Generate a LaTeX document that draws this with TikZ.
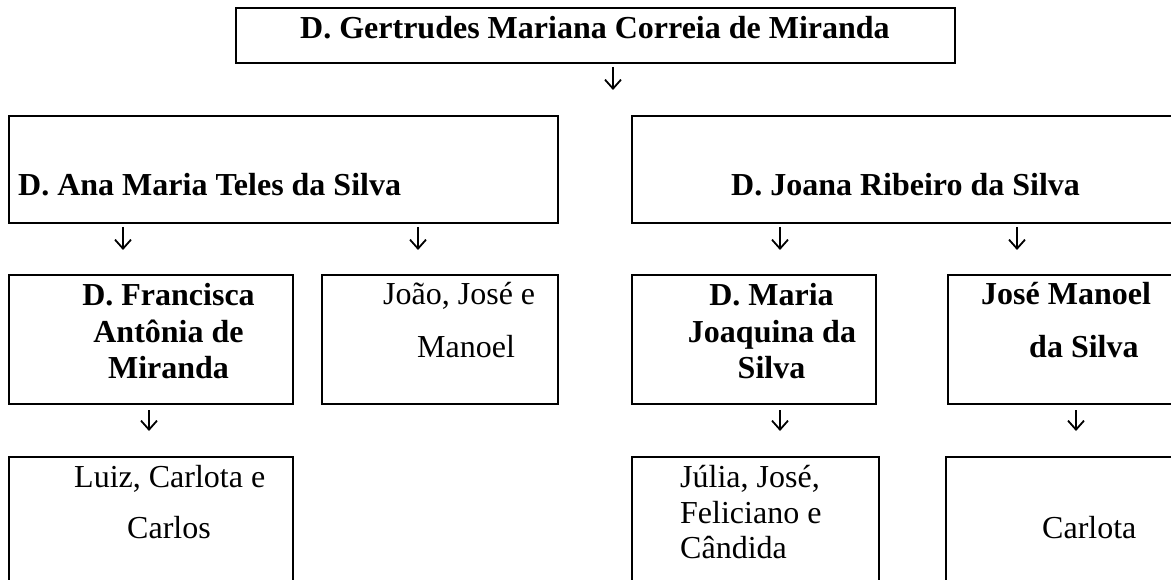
\documentclass[tikz,border=0pt]{standalone}
\usepackage{fontspec}
\setmainfont{Liberation Serif}
\usetikzlibrary{arrows.meta}
\tikzset{
  box/.style={draw, line width=2pt, rectangle, anchor=north west, inner sep=0pt},
  txt/.style={inner sep=0pt, font=\fontsize{32}{36}\selectfont},
  btxt/.style={inner sep=0pt, font=\fontsize{32}{36}\selectfont\bfseries},
  arr/.style={line width=1.8pt, -{Straight Barb[length=9pt,width=16pt,line width=1.8pt]}}
}
\begin{document}
\begin{tikzpicture}[x=1pt,y=-1pt]
\clip (0,0) rectangle (1171,580);
\fill[white] (0,0) rectangle (1171,580);
% boxes
\node[box, minimum width=719pt, minimum height=55pt] (top) at (235,7) {};
\node[box, minimum width=549pt, minimum height=107pt] (ana) at (8,115) {};
\node[box, minimum width=554pt, minimum height=107pt] (joana) at (631,115) {};
\node[box, minimum width=284pt, minimum height=129pt] (fran) at (8,274) {};
\node[box, minimum width=236pt, minimum height=129pt] (joao) at (321,274) {};
\node[box, minimum width=244pt, minimum height=129pt] (maria) at (631,274) {};
\node[box, minimum width=238pt, minimum height=129pt] (jm) at (947,274) {};
\node[box, minimum width=284pt, minimum height=144pt] (luiz) at (8,456) {};
\node[box, minimum width=247pt, minimum height=144pt] (julia) at (631,456) {};
\node[box, minimum width=240pt, minimum height=144pt] (carlota) at (945,456) {};
% texts
\node[btxt, anchor=base west] (ttop) at (300,39) {D. Gertrudes Mariana Correia de Miranda};
\node[btxt, anchor=base west] (tana) at (18,196) {D. Ana Maria Teles da Silva};
\node[btxt, anchor=base west] (tjoana) at (731,196) {D. Joana Ribeiro da Silva};
\node[btxt, anchor=base] (tfran1) at (168.5,306) {D. Francisca};
\node[btxt, anchor=base] (tfran2) at (168.5,342) {Antônia de};
\node[btxt, anchor=base] (tfran3) at (168.5,378) {Miranda};
\node[txt, anchor=base west] (tjoao1) at (383,305) {João, José e};
\node[txt, anchor=base west] (tjoao2) at (417,357) {Manoel};
\node[btxt, anchor=base] (tmaria1) at (771.5,306) {D. Maria};
\node[btxt, anchor=base] (tmaria2) at (772,342) {Joaquina da};
\node[btxt, anchor=base] (tmaria3) at (771.5,378) {Silva};
\node[btxt, anchor=base west] (tjm1) at (981,305) {José Manoel};
\node[btxt, anchor=base west] (tjm2) at (1029,357) {da Silva};
\node[txt, anchor=base west] (tluiz1) at (74,487) {Luiz, Carlota e};
\node[txt, anchor=base west] (tluiz2) at (127,538) {Carlos};
\node[txt, anchor=base west] (tjulia1) at (680,487) {Júlia, José,};
\node[txt, anchor=base west] (tjulia2) at (680,523) {Feliciano e};
\node[txt, anchor=base west] (tjulia3) at (680,558) {Cândida};
\node[txt, anchor=base west] (tcarlota) at (1042,538) {Carlota};
% arrows
\coordinate (a0s) at (613,67);  \coordinate (a0e) at (613,90);
\coordinate (a1s) at (123,227); \coordinate (a1e) at (123,250);
\coordinate (a2s) at (418,227); \coordinate (a2e) at (418,250);
\coordinate (a3s) at (780,227); \coordinate (a3e) at (780,250);
\coordinate (a4s) at (1017,227); \coordinate (a4e) at (1017,250);
\coordinate (a5s) at (149,410); \coordinate (a5e) at (149,431);
\coordinate (a6s) at (780,410); \coordinate (a6e) at (780,431);
\coordinate (a7s) at (1076,410); \coordinate (a7e) at (1076,431);
\foreach \i in {0,...,7} { \draw[arr] (a\i s) -- (a\i e); }
\end{tikzpicture}
\end{document}
